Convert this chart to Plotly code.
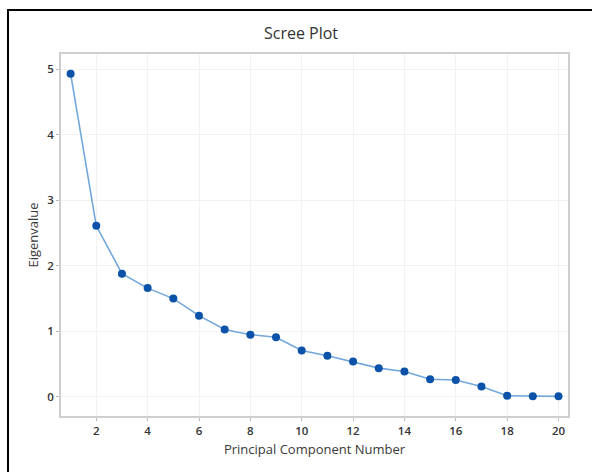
import plotly.graph_objects as go

components = list(range(1, 21))
eigenvalues = [4.93, 2.61, 1.88, 1.66, 1.50, 1.24, 1.03, 0.95, 0.91, 0.71,
               0.63, 0.54, 0.44, 0.39, 0.27, 0.26, 0.16, 0.02, 0.01, 0.01]
x_ticks = list(range(2, 21, 2))
y_ticks = [0, 1, 2, 3, 4, 5]

FONT = "Open Sans, Noto Sans, sans-serif"

fig = go.Figure()
fig.add_trace(go.Scatter(
    x=components, y=eigenvalues, mode="lines+markers",
    line=dict(color="#72a7dc", width=1.6),
    marker=dict(color="#0b52a8", size=8, line=dict(width=0)),
    showlegend=False,
))

L, R, T, B = 61, 24, 54, 56
W, H = 592, 472
pw, ph = W - L - R, H - T - B

def px_x(x):
    return (x - L) / pw

def px_y(y):
    return 1 - (y - T) / ph

frame = dict(color="black", width=2)
fig.add_shape(type="line", xref="paper", yref="paper",
              x0=px_x(8), x1=px_x(8), y0=px_y(9), y1=px_y(480), line=frame)
fig.add_shape(type="line", xref="paper", yref="paper",
              x0=px_x(8), x1=px_x(600), y0=px_y(10), y1=px_y(10), line=frame)

axis_common = dict(
    showline=True, linecolor="#cfcfcf", linewidth=1.5, mirror=True,
    showgrid=True, gridcolor="#f2f2f2", gridwidth=1,
    zeroline=False,
    ticks="outside", ticklen=3, tickcolor="#bbbbbb",
    tickfont=dict(family=FONT, size=11.5, color="#333333", weight=600),
)

fig.update_xaxes(
    range=[0.626, 20.37], tickvals=x_ticks,
    title=dict(text="Principal Component Number",
               font=dict(family=FONT, size=13, color="#3a3a3a", weight=500), standoff=8),
    **axis_common,
)
fig.update_yaxes(
    range=[-0.29, 5.23], tickvals=y_ticks,
    title=dict(text="Eigenvalue",
               font=dict(family=FONT, size=13, color="#3a3a3a", weight=500), standoff=6),
    **axis_common,
)

fig.update_layout(
    width=W, height=H,
    margin=dict(l=L, r=R, t=T, b=B),
    paper_bgcolor="white", plot_bgcolor="white",
    title=dict(text="Scree Plot", x=301 / W, xref="container", xanchor="center",
               y=1 - 33 / H, yanchor="middle",
               font=dict(family=FONT, size=16, color="#333333")),
)

fig.write_html("out.html",
               config={"displayModeBar": False},
               post_script="document.body.style.margin='0';document.body.style.overflow='hidden';")
